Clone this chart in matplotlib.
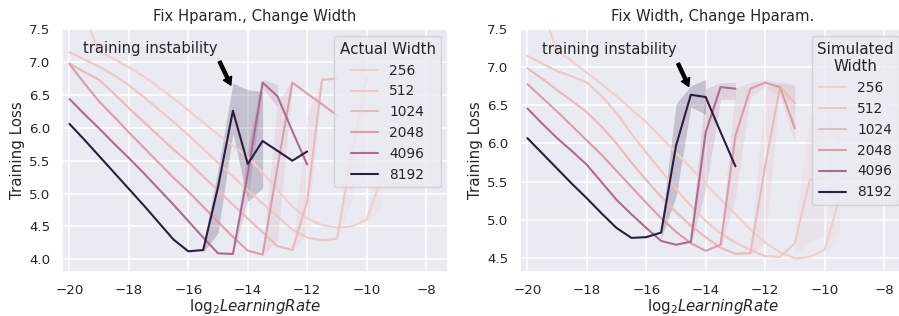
import numpy as np
import matplotlib
matplotlib.use('Agg')
import matplotlib.pyplot as plt
import seaborn as sns

# log2 learning rate grid (every series starts at -20)
lr = [-20, -19.5, -19, -18.5, -18, -17.5, -17, -16.5, -16, -15.5, -15,
      -14.5, -14, -13.5, -13, -12.5, -12, -11.5, -11, -10.5, -10, -9.5]
widths = [256, 512, 1024, 2048, 4096, 8192]

# left panel: fix hparam, change (actual) width
left_256 = [8.30, 7.70, 7.16, 7.05, 6.92, 6.78, 6.62, 6.45, 6.27, 6.08, 5.90,
            5.73, 5.56, 5.32, 5.06, 4.80, 4.62, 4.52, 4.48, 4.50, 4.60, 5.23]
left_512 = [7.15, 7.04, 6.93, 6.80, 6.65, 6.47, 6.28, 6.09, 5.89, 5.68, 5.47,
            5.26, 5.05, 4.85, 4.65, 4.45, 4.33, 4.29, 4.31, 5.60, 6.75]
left_1024 = [6.98, 6.85, 6.73, 6.52, 6.30, 6.09, 5.88, 5.67, 5.48, 5.26, 5.05,
             4.83, 4.62, 4.41, 4.20, 4.14, 4.88, 6.73, 6.75]
left_2048 = [6.97, 6.68, 6.40, 6.17, 5.93, 5.70, 5.47, 5.24, 5.03, 4.80, 4.57,
             4.34, 4.13, 4.07, 5.40, 6.69, 6.52, 6.36, 6.19]
left_4096 = [6.44, 6.21, 5.99, 5.76, 5.54, 5.31, 5.07, 4.83, 4.58, 4.33, 4.09,
             4.08, 5.30, 6.69, 6.48, 5.95, 5.44]
left_8192 = [6.06, 5.82, 5.57, 5.32, 5.07, 4.82, 4.56, 4.30, 4.12, 4.14, 5.10,
             6.26, 5.45, 5.80, 5.65, 5.50, 5.64]

# spread over seeds (x, low, high) where it is visible
band_left_256 = [(-10, 4.50, 4.75), (-9.5, 4.80, 5.90)]
band_left_512 = [(-11, 4.29, 4.33), (-10.5, 4.90, 6.30), (-10, 6.72, 6.78)]
band_left_1024 = [(-12.5, 4.12, 4.16), (-12, 4.40, 6.20), (-11.5, 6.70, 6.75)]
band_left_2048 = [(-13.5, 4.05, 4.10), (-13, 4.30, 6.40), (-12.5, 6.64, 6.72)]
band_left_4096 = [(-14.5, 4.06, 4.10), (-14, 4.90, 5.70), (-13.5, 6.60, 6.74),
                  (-13, 6.32, 6.66)]
band_left_8192 = [(-15.5, 4.10, 4.22), (-15, 4.40, 5.36), (-14.5, 5.92, 6.68),
                  (-14, 4.88, 6.58), (-13.5, 5.08, 6.55)]

# right panel: fix width, change hparam (simulated width)
right_256 = [8.40, 7.75, 7.22, 7.08, 6.93, 6.78, 6.62, 6.45, 6.28, 6.08, 5.88,
             5.68, 5.47, 5.27, 5.07, 4.87, 4.70, 4.57, 4.49, 4.51, 4.60, 5.28]
right_512 = [7.15, 7.05, 6.95, 6.88, 6.80, 6.62, 6.40, 6.13, 5.88, 5.64, 5.40,
             5.18, 4.98, 4.82, 4.70, 4.60, 4.52, 4.51, 4.69, 5.52, 5.55]
right_1024 = [6.99, 6.85, 6.70, 6.56, 6.41, 6.22, 6.00, 5.75, 5.52, 5.30, 5.10,
              4.92, 4.77, 4.63, 4.55, 4.56, 5.70, 6.75, 6.53]
right_2048 = [6.78, 6.60, 6.42, 6.23, 6.04, 5.85, 5.64, 5.43, 5.22, 5.02, 4.84,
              4.69, 4.59, 4.67, 6.10, 6.72, 6.80, 6.74, 6.20]
right_4096 = [6.46, 6.26, 6.07, 5.90, 5.72, 5.49, 5.26, 5.07, 4.89, 4.72, 4.67,
              4.71, 6.15, 6.74, 6.72]
right_8192 = [6.07, 5.87, 5.67, 5.47, 5.28, 5.08, 4.89, 4.76, 4.77, 4.83, 5.97,
              6.64, 6.61, 6.15, 5.70]

band_right_256 = [(-10, 4.50, 4.75), (-9.5, 4.80, 6.30)]
band_right_512 = [(-11, 4.55, 4.90), (-10.5, 4.70, 6.35), (-10, 4.80, 6.40)]
band_right_1024 = [(-12.5, 4.54, 4.60), (-12, 4.70, 6.72), (-11.5, 6.70, 6.80),
                   (-11, 6.40, 6.76)]
band_right_2048 = [(-13.5, 4.62, 4.75), (-13, 5.30, 6.72), (-12.5, 6.62, 6.80),
                   (-12, 6.74, 6.84), (-11.5, 6.62, 6.80), (-11, 6.02, 6.78)]
band_right_4096 = [(-14.5, 4.66, 4.80), (-14, 5.40, 6.72), (-13.5, 6.58, 6.80),
                   (-13, 6.58, 6.80)]
band_right_8192 = [(-15.5, 4.76, 4.90), (-15, 5.30, 6.52), (-14.5, 6.48, 6.76),
                   (-14, 6.38, 6.84)]

sns.set_theme(style='darkgrid')
plt.rcParams['font.family'] = ['DejaVu Sans']
plt.rcParams['grid.linewidth'] = 1.1

cmap = sns.cubehelix_palette(as_cmap=True)
norm = plt.Normalize(min(widths), max(widths))

fig = plt.figure(figsize=(8.99, 3.16), dpi=100)
ax1 = fig.add_axes([0.069, 0.1402, 0.4294, 0.7671])
ax2 = fig.add_axes([0.5784, 0.1402, 0.4294, 0.7671])


def draw(ax, curves, bands, title, legend_title, ylim, yticks, text_xy, arrow_from, arrow_to):
    for w, ys, band in zip(widths, curves, bands):
        c = cmap(norm(w))
        ax.plot(lr[:len(ys)], ys, color=c, lw=1.5, label=str(w))
        bx = [b[0] for b in band]
        ax.fill_between(bx, [b[1] for b in band], [b[2] for b in band],
                        color=c, alpha=0.2, lw=0)
    ax.set_xlim(-20.25, -7.26)
    ax.set_ylim(*ylim)
    ax.set_yticks(yticks)
    ax.set_xticks([-20, -18, -16, -14, -12, -10, -8])
    ax.tick_params(labelsize=9.6, pad=8.5, length=0)
    ax.set_title(title, fontsize=10.6)
    ax.set_xlabel(r'$\mathrm{log}_2LearningRate$', fontsize=10.8, labelpad=0)
    ax.set_ylabel('Training Loss', fontsize=10.8, labelpad=3)
    ax.text(text_xy[0], text_xy[1], 'training instability', fontsize=10.6, va='center')
    ax.annotate('', xy=arrow_to, xytext=arrow_from,
                arrowprops=dict(facecolor='black', edgecolor='black', width=2.2,
                                headwidth=6.5, headlength=5.5, shrink=0))
    leg = ax.legend(title=legend_title, loc='upper right', fontsize=9.9,
                    title_fontsize=10.9)
    leg.get_title().set_multialignment('center')


draw(ax1, [left_256, left_512, left_1024, left_2048, left_4096, left_8192],
     [band_left_256, band_left_512, band_left_1024, band_left_2048, band_left_4096, band_left_8192],
     'Fix Hparam., Change Width', 'Actual Width', (3.81, 7.5),
     [4.0, 4.5, 5.0, 5.5, 6.0, 6.5, 7.0, 7.5], (-19.55, 7.21), (-14.95, 7.01), (-14.57, 6.65))
draw(ax2, [right_256, right_512, right_1024, right_2048, right_4096, right_8192],
     [band_right_256, band_right_512, band_right_1024, band_right_2048, band_right_4096, band_right_8192],
     'Fix Width, Change Hparam.', 'Simulated\nWidth', (4.316, 7.5),
     [4.5, 5.0, 5.5, 6.0, 6.5, 7.0, 7.5], (-19.5, 7.23), (-14.93, 7.05), (-14.57, 6.75))

fig.savefig('out.png', dpi=100)
